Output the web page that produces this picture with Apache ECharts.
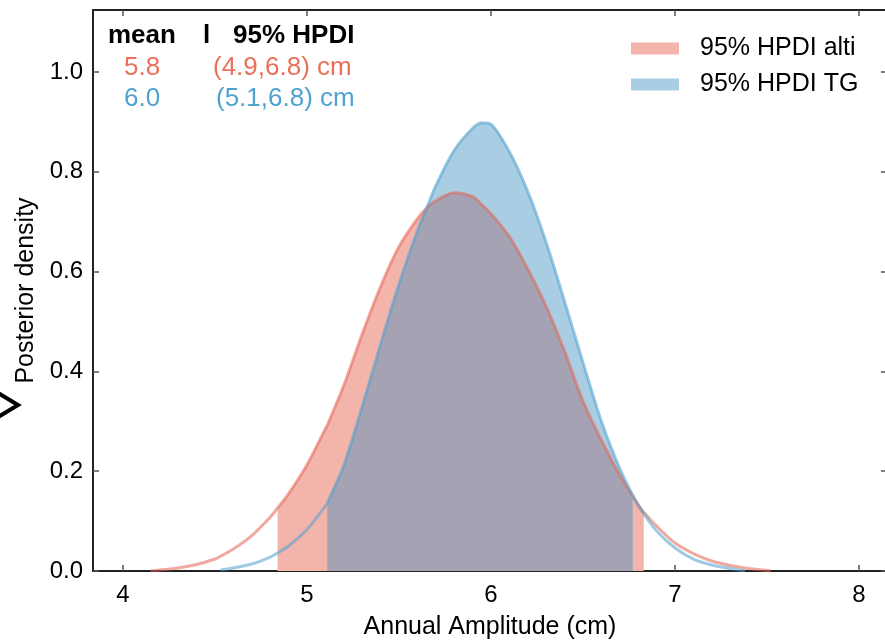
<!DOCTYPE html>
<html>
<head>
<meta charset="utf-8">
<script src="https://cdn.jsdelivr.net/npm/echarts@6/dist/echarts.min.js"></script>
<style>
  html, body { margin: 0; padding: 0; background: #fff; }
  #chart { width: 885px; height: 640px; }
</style>
</head>
<body>
<div id="chart"></div>
<script>
// amplitude grid (cm), shared by both curves
const amp = [4.15, 4.2, 4.3, 4.4, 4.5, 4.53, 4.6, 4.7, 4.8, 4.84, 4.9, 5.0, 5.1, 5.11, 5.2, 5.3, 5.4, 5.5, 5.6, 5.65, 5.7, 5.8, 5.9, 5.95, 6.0, 6.1, 6.2, 6.3, 6.4, 6.5, 6.6, 6.7, 6.77, 6.8, 6.83, 6.9, 7.0, 7.1, 7.2, 7.3, 7.38, 7.4, 7.5, 7.52]
// posterior density, altimetry
const altiDens = [0.000, 0.002, 0.006, 0.013, 0.024, 0.0295, 0.044, 0.071, 0.108, 0.126, 0.155, 0.213, 0.285, 0.292, 0.372, 0.475, 0.570, 0.650, 0.706, 0.727, 0.742, 0.758, 0.750, 0.734, 0.716, 0.670, 0.605, 0.530, 0.440, 0.340, 0.262, 0.192, 0.150, 0.133, 0.118, 0.090, 0.056, 0.035, 0.020, 0.011, 0.006, 0.005, 0.001, 0.000]
// posterior density, tide gauge
const tgDens = [null, null, null, null, null, 0.002, 0.006, 0.014, 0.028, 0.036, 0.050, 0.083, 0.130, 0.136, 0.212, 0.330, 0.455, 0.575, 0.682, 0.727, 0.772, 0.843, 0.887, 0.898, 0.895, 0.840, 0.760, 0.658, 0.540, 0.418, 0.300, 0.205, 0.152, 0.132, 0.115, 0.080, 0.046, 0.024, 0.012, 0.005, 0.000, null, null, null]
// 95% HPDI bounds
const altiHpdi = [4.84, 6.83]
const tgHpdi = [5.11, 6.77]
// text block
const meanVals = ['5.8', '6.0']
const hpdiLabels = ['(4.9,6.8) cm', '(5.1,6.8) cm']
const seriesNames = ['95% HPDI alti', '95% HPDI TG']
const xTicks = [4, 5, 6, 7, 8]
const yTicks = [0, 0.2, 0.4, 0.6, 0.8, 1.0]

const FONT = 'Liberation Sans'
const RED = '#ec6f5a'
const BLUE = '#4fa3d1'

function pairs (dens, lo, hi) {
  let out = []
  amp.forEach((x, i) => {
    if (dens[i] !== null && x >= lo && x <= hi) out.push([x, dens[i]])
  })
  return out
}

let overlap = []
amp.forEach((x, i) => {
  if (x >= tgHpdi[0] && x <= tgHpdi[1]) overlap.push([x, Math.min(altiDens[i], tgDens[i])])
})

function baseAxis (extra) {
  return Object.assign({
    type: 'value',
    splitLine: { show: false },
    axisLine: { show: true, onZero: false, lineStyle: { color: '#222', width: 2 } }
  }, extra)
}

function ticks (vals) {
  return { show: true, inside: true, length: 6, customValues: vals, lineStyle: { color: '#555', width: 1.5 } }
}

const chart = echarts.init(document.getElementById('chart'))

let option = {
  animation: false,
  // the frame runs just past the right edge, as in the cropped original
  grid: { left: 93, top: 10, right: -2, bottom: 69, outerBoundsMode: 'none', containLabel: false },
  legend: {
    orient: 'vertical',
    left: 631,
    top: 36,
    padding: 0,
    icon: 'rect',
    itemWidth: 48,
    itemHeight: 12,
    itemGap: 11,
    textStyle: { fontSize: 25, fontFamily: FONT, color: '#000', padding: [0, 0, 0, 16] },
    data: [
      { name: seriesNames[0], itemStyle: { color: '#f3b5ab' } },
      { name: seriesNames[1], itemStyle: { color: '#a9cee3' } }
    ]
  },
  xAxis: [
    baseAxis({
      min: 3.837, max: 8.152, position: 'bottom',
      axisTick: ticks(xTicks),
      axisLabel: { customValues: xTicks, fontSize: 24, fontFamily: FONT, color: '#000', margin: 12 },
      name: 'Annual Amplitude (cm)', nameLocation: 'middle', nameGap: 44,
      nameTextStyle: { fontSize: 25, fontFamily: FONT, color: '#000' }
    }),
    baseAxis({
      min: 3.837, max: 8.152, position: 'top',
      axisTick: ticks(xTicks),
      axisLabel: { show: false }
    })
  ],
  yAxis: [
    baseAxis({
      min: 0, max: 1.124, position: 'left',
      axisTick: ticks(yTicks),
      axisLabel: { customValues: yTicks, fontSize: 24, fontFamily: FONT, color: '#000', margin: 10, formatter: v => v.toFixed(1) },
      name: 'Posterior density', nameLocation: 'middle', nameGap: 47,
      nameTextStyle: { fontSize: 25, fontFamily: FONT, color: '#000' }
    }),
    baseAxis({
      min: 0, max: 1.124, position: 'right',
      axisTick: ticks(yTicks),
      axisLabel: { show: false }
    })
  ],
  series: [
    {
      name: seriesNames[0], type: 'line', smooth: 0.3, symbol: 'none',
      data: pairs(altiDens, altiHpdi[0], altiHpdi[1]),
      lineStyle: { width: 0 }, itemStyle: { color: '#f3b5ab' },
      areaStyle: { color: '#f3b5ab', opacity: 1 }, z: 1
    },
    {
      name: seriesNames[1], type: 'line', smooth: 0.3, symbol: 'none',
      data: pairs(tgDens, tgHpdi[0], tgHpdi[1]),
      lineStyle: { width: 0 }, itemStyle: { color: '#a9cee3' },
      areaStyle: { color: '#a9cee3', opacity: 1 }, z: 2
    },
    {
      name: 'overlap', type: 'line', smooth: 0.3, symbol: 'none',
      data: overlap,
      lineStyle: { width: 0 },
      areaStyle: { color: '#a5a3b3', opacity: 1 }, z: 3
    },
    {
      name: 'alti curve', type: 'line', smooth: 0.3, symbol: 'none',
      data: pairs(altiDens, 0, 10),
      lineStyle: { width: 3, color: 'rgba(228,98,82,0.55)' }, z: 4
    },
    {
      name: 'TG curve', type: 'line', smooth: 0.3, symbol: 'none',
      data: pairs(tgDens, 0, 10),
      lineStyle: { width: 3, color: 'rgba(78,158,205,0.55)' }, z: 5
    }
  ],
  graphic: [
    { type: 'text', left: 108, top: 23, style: { text: 'mean', font: 'bold 26px ' + FONT, fill: '#000' } },
    { type: 'text', left: 203, top: 23, style: { text: 'l', font: 'bold 26px ' + FONT, fill: '#000' } },
    { type: 'text', left: 233, top: 23, style: { text: '95% HPDI', font: 'bold 26px ' + FONT, fill: '#000' } },
    { type: 'text', left: 124, top: 55, style: { text: meanVals[0], font: '26px ' + FONT, fill: RED } },
    { type: 'text', left: 213, top: 55, style: { text: hpdiLabels[0], font: '26px ' + FONT, fill: RED } },
    { type: 'text', left: 124, top: 86, style: { text: meanVals[1], font: '26px ' + FONT, fill: BLUE } },
    { type: 'text', left: 216, top: 86, style: { text: hpdiLabels[1], font: '26px ' + FONT, fill: BLUE } },
    {
      type: 'polyline',
      shape: { points: [[-2, 393], [18, 405], [-2, 417]] },
      style: { stroke: '#000', lineWidth: 4, fill: null }
    }
  ]
}

chart.setOption(option)
</script>
</body>
</html>
